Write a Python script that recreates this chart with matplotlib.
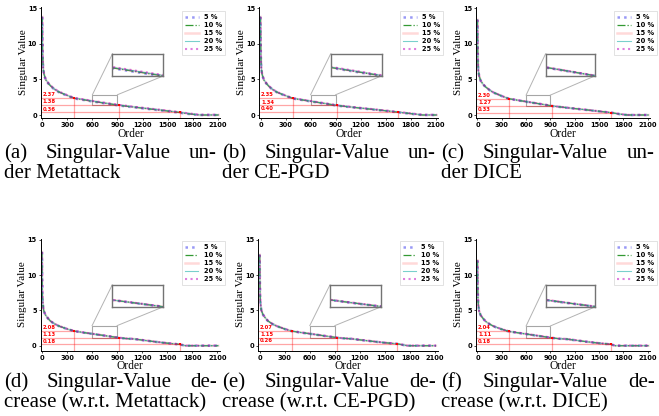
import numpy as np
import matplotlib.pyplot as plt
from matplotlib.patches import Rectangle

# singular values (order -> value), one curve per panel
ord_a = [0, 2, 5, 10, 20, 40, 70, 100, 150, 200, 300, 384, 500, 600, 750, 921, 1100, 1300, 1500, 1650, 1780, 1880, 2110]
sv_a = [13.8, 10.5, 8.0, 6.6, 5.8, 5.0, 4.5, 4.1, 3.6, 3.25, 2.75, 2.37, 2.15, 1.95, 1.68, 1.38, 1.12, 0.85, 0.58, 0.36, 0.15, 0.0, 0.0]
ord_b = [0, 2, 5, 10, 20, 40, 70, 100, 150, 200, 300, 384, 500, 600, 750, 921, 1100, 1300, 1500, 1650, 1800, 1940, 2110]
sv_b = [13.8, 10.3, 7.9, 6.5, 5.7, 4.95, 4.45, 4.05, 3.55, 3.2, 2.72, 2.35, 2.13, 1.94, 1.66, 1.34, 1.1, 0.85, 0.6, 0.40, 0.2, 0.0, 0.0]
ord_c = [0, 2, 5, 10, 20, 40, 70, 100, 150, 200, 300, 384, 500, 600, 750, 921, 1100, 1300, 1500, 1650, 1760, 1850, 2110]
sv_c = [13.4, 9.8, 7.5, 6.3, 5.5, 4.8, 4.3, 3.95, 3.5, 3.15, 2.67, 2.30, 2.07, 1.88, 1.60, 1.27, 1.03, 0.78, 0.52, 0.33, 0.12, 0.0, 0.0]
ord_d = [0, 2, 5, 10, 20, 40, 70, 100, 150, 200, 300, 384, 500, 600, 750, 921, 1000, 1100, 1200, 1350, 1500, 1650, 1720, 2110]
sv_d = [13.3, 9.5, 7.2, 5.9, 5.0, 4.4, 3.9, 3.5, 3.1, 2.8, 2.38, 2.08, 1.86, 1.69, 1.43, 1.13, 1.02, 0.96, 0.80, 0.57, 0.36, 0.18, 0.0, 0.0]
ord_e = [0, 2, 5, 10, 20, 40, 70, 100, 150, 200, 300, 384, 500, 600, 750, 921, 1000, 1100, 1200, 1350, 1500, 1650, 1770, 2110]
sv_e = [12.9, 9.3, 7.1, 5.9, 5.0, 4.4, 3.9, 3.5, 3.1, 2.8, 2.37, 2.07, 1.86, 1.70, 1.44, 1.15, 1.05, 0.98, 0.83, 0.62, 0.42, 0.26, 0.0, 0.0]
ord_f = [0, 2, 5, 10, 20, 40, 70, 100, 150, 200, 300, 384, 500, 600, 750, 921, 1000, 1100, 1200, 1350, 1500, 1650, 1700, 2110]
sv_f = [12.1, 8.8, 6.9, 5.8, 4.9, 4.3, 3.85, 3.45, 3.05, 2.75, 2.33, 2.04, 1.83, 1.66, 1.40, 1.11, 1.0, 0.94, 0.79, 0.56, 0.36, 0.18, 0.0, 0.0]

# small vertical offset of each perturbation rate (seen in the zoom boxes)
gap_a = [-0.05, -0.02, 0.0, 0.01, 0.04]
gap_b = [-0.03, -0.01, 0.0, 0.01, 0.03]
gap_c = [-0.01, 0.0, 0.0, 0.0, 0.01]
gap_d = [-0.01, 0.0, 0.0, 0.0, 0.01]
gap_e = [-0.01, 0.0, 0.0, 0.0, 0.01]
gap_f = [-0.01, 0.0, 0.0, 0.0, 0.01]

rates = ['5 %', '10 %', '15 %', '20 %', '25 %']

# red marker orders and labels
mark_ord = [384, 921, 1650]
mark_a = [2.37, 1.38, 0.36]
mark_b = [2.35, 1.34, 0.40]
mark_c = [2.30, 1.27, 0.33]
mark_d = [2.08, 1.13, 0.18]
mark_e = [2.07, 1.15, 0.26]
mark_f = [2.04, 1.11, 0.18]

cap1 = [['(a)', 'Singular-Value', 'un-'], ['(b)', 'Singular-Value', 'un-'], ['(c)', 'Singular-Value', 'un-'],
        ['(d)', 'Singular-Value', 'de-'], ['(e)', 'Singular-Value', 'de-'], ['(f)', 'Singular-Value', 'de-']]
cap2 = ['der Metattack', 'der CE-PGD', 'der DICE',
        'crease (w.r.t. Metattack)', 'crease (w.r.t. CE-PGD)', 'crease (w.r.t. DICE)']

styles = [dict(color='#4444ee', ls=':', lw=1.8, alpha=0.55),
          dict(color='green', ls='-.', lw=0.9, alpha=0.8),
          dict(color='red', ls='-', lw=1.8, alpha=0.15),
          dict(color='lightseagreen', ls='-', lw=0.8, alpha=0.6),
          dict(color='m', ls=':', lw=1.5, alpha=0.5)]

W, H = 659, 416
fig = plt.figure(figsize=(W / 100, H / 100), dpi=100)

panels = [
    # x px of order 0, px/unit x, y px of value 0, px/unit y, ylim low, zoom ylim, data, gap, marks
    (42.3, 0.0835, 115.0, 7.11, -0.45, (1.40, 2.85), ord_a, sv_a, gap_a, mark_a),
    (260.5, 0.0835, 115.0, 7.11, -0.45, (1.36, 2.85), ord_b, sv_b, gap_b, mark_b),
    (477.5, 0.081, 115.0, 7.11, -0.45, (1.30, 2.80), ord_c, sv_c, gap_c, mark_c),
    (42.0, 0.0835, 345.7, 7.05, -0.7, (1.15, 2.85), ord_d, sv_d, gap_d, mark_d),
    (259.7, 0.0835, 345.7, 7.05, -0.7, (1.15, 2.85), ord_e, sv_e, gap_e, mark_e),
    (477.5, 0.081, 345.7, 7.05, -0.7, (1.12, 2.80), ord_f, sv_f, gap_f, mark_f),
]
xlim = (-15, 2130)
ytop = 15.2

for i, (x0, sx, y0, sy, ylo, zy, od, sv, gap, mk) in enumerate(panels):
    left = x0 + xlim[0] * sx
    right = x0 + xlim[1] * sx
    top = y0 - ytop * sy
    bot = y0 - ylo * sy
    h = bot - top
    ax = fig.add_axes([left / W, 1 - bot / H, (right - left) / W, h / H])
    od = np.array(od)
    sv = np.array(sv)
    for r, st, g in zip(rates, styles, gap):
        ax.plot(od, np.clip(sv + g, 0, None), label=r, **st)
    ax.set_xlim(xlim)
    ax.set_ylim(ylo, ytop)
    ax.set_xticks([0, 300, 600, 900, 1200, 1500, 1800, 2100])
    ax.set_yticks([0, 5, 10, 15])
    ax.tick_params(labelsize=4.8, length=1.5, width=0.5, pad=1.5)
    for t in ax.get_xticklabels() + ax.get_yticklabels():
        t.set_fontweight('bold')
    for s in ['top', 'right']:
        ax.spines[s].set_visible(False)
    for s in ['left', 'bottom']:
        ax.spines[s].set_linewidth(0.7)
    ax.set_xlabel('Order', family='Liberation Serif', fontsize=8.3)
    ax.set_ylabel('Singular Value', family='Liberation Serif', fontsize=8)
    xl_gap = 10.0 if i < 3 else 9.5
    ax.xaxis.set_label_coords(0.5, -xl_gap / h)
    ax.yaxis.set_label_coords(-13.5 / (right - left), 0.5)

    # red guide lines
    for o, v in zip(mark_ord, mk):
        ax.plot([xlim[0], o], [v, v], color='red', alpha=0.35, lw=0.9)
        ax.plot([o, o], [ylo, v], color='red', alpha=0.35, lw=0.9)
        ax.plot(o, v, 's', color='red', ms=1.6, mew=0)
        ax.text(5, v + 0.12, '%.2f' % v, color='red', fontsize=3.8,
                fontweight='bold', va='bottom', ha='left')

    # zoom box + inset
    ax.add_patch(Rectangle((600, zy[0]), 300, zy[1] - zy[0], fill=False,
                           edgecolor='0.65', lw=0.8))
    ins_y = (5.5, 8.6)
    axins = ax.inset_axes([840, ins_y[0], 610, ins_y[1] - ins_y[0]], transform=ax.transData)
    for st, g in zip(styles, gap):
        axins.plot(od, sv + g, **st)
    axins.set_xlim(600, 900)
    axins.set_ylim(zy)
    axins.set_xticks([])
    axins.set_yticks([])
    for s in axins.spines.values():
        s.set_edgecolor('0.45')
        s.set_linewidth(1.0)
    ax.plot([600, 840], [zy[1], ins_y[1]], color='0.7', lw=0.7, clip_on=False)
    ax.plot([900, 1450], [zy[1], ins_y[0]], color='0.7', lw=0.7, clip_on=False)

    leg_top = 14.6 if i < 3 else 14.8
    leg_x = 2190 if sx > 0.082 else 2220
    leg = ax.legend(loc='upper right', bbox_to_anchor=(leg_x, leg_top),
                    bbox_transform=ax.transData, prop={'weight': 'bold', 'size': 4.8},
                    handlelength=2.0, handletextpad=0.8, labelspacing=0.3,
                    borderpad=0.45, borderaxespad=0, frameon=True, fancybox=False)
    leg.get_frame().set_edgecolor('0.8')
    leg.get_frame().set_linewidth(0.5)

# captions, first line justified over the column
cols = [(4, 217), (222, 436), (441, 655)] * 2
base1 = [158, 158, 158, 387, 387, 387]
base2 = [178, 178, 178, 407, 407, 407]
r = fig.canvas.get_renderer()
for i in range(6):
    x0, x1 = cols[i]
    ts = [fig.text(0, 0, w, family='Liberation Serif', fontsize=15) for w in cap1[i]]
    ws = [t.get_window_extent(r).width for t in ts]
    g = (x1 - x0 - sum(ws)) / (len(ws) - 1)
    x = x0
    for t, w in zip(ts, ws):
        t.set_position((x / W, 1 - base1[i] / H))
        x += w + g
    fig.text(x0 / W, 1 - base2[i] / H, cap2[i], family='Liberation Serif', fontsize=15)

fig.savefig('out.png', dpi=100)
